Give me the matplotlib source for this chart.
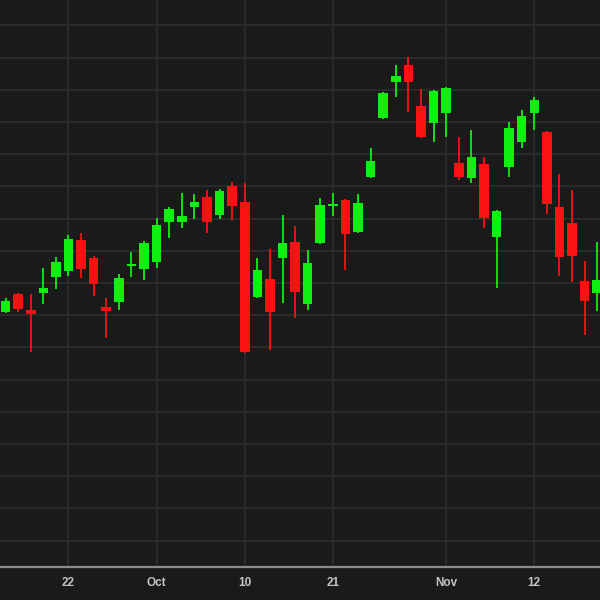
import matplotlib
matplotlib.use("Agg")
import matplotlib.pyplot as plt
import numpy as np

# Trading days, 15 Sep 2025 .. 19 Nov 2025 (arbitrary price units)
dates = ["09-15","09-16","09-17","09-18","09-19","09-22","09-23","09-24","09-25","09-26",
         "09-29","09-30","10-01","10-02","10-03","10-06","10-07","10-08","10-09","10-10",
         "10-13","10-14","10-15","10-16","10-17","10-20","10-21","10-22","10-23","10-24",
         "10-27","10-28","10-29","10-30","10-31","11-03","11-04","11-05","11-06","11-07",
         "11-10","11-11","11-12","11-13","11-14","11-17","11-18","11-19"]
opens  = [688, 706, 690, 707, 723, 729, 760, 742, 693, 698,
          734, 731, 738, 778, 778, 793, 803, 785, 814, 798,
          703, 721, 742, 758, 696, 757, 794, 800, 768, 823,
          882, 918, 935, 894, 877, 887, 837, 822, 836, 763,
          833, 858, 887, 868, 793, 777, 719, 707]
highs  = [702, 707, 706, 732, 743, 765, 767, 744, 702, 726,
          748, 759, 782, 793, 807, 806, 810, 811, 818, 817,
          742, 751, 785, 774, 750, 802, 807, 801, 806, 852,
          908, 935, 943, 911, 910, 913, 863, 870, 843, 790,
          878, 890, 903, 869, 826, 810, 739, 758]
lows   = [687, 688, 648, 696, 711, 724, 722, 704, 662, 690,
          723, 720, 732, 762, 772, 781, 767, 781, 780, 647,
          702, 650, 697, 682, 690, 756, 784, 730, 767, 822,
          881, 903, 888, 862, 858, 863, 820, 817, 772, 712,
          823, 852, 870, 786, 724, 718, 665, 689]
closes = [699, 691, 686, 712, 738, 761, 731, 716, 689, 722,
          736, 757, 775, 791, 784, 798, 778, 809, 794, 648,
          730, 688, 757, 708, 737, 795, 796, 766, 797, 839,
          907, 924, 918, 863, 909, 912, 823, 843, 782, 789,
          872, 884, 900, 796, 743, 744, 699, 720]

tick_idx = [5, 12, 19, 26, 35, 42]
tick_labels = ["22", "Oct", "10", "21", "Nov", "12"]

BG = "#1a1a1a"
GRID = "#2a2a2a"
UP = "#10f010"
DOWN = "#f81212"

fig = plt.figure(figsize=(6, 6), dpi=100, facecolor=BG)
ax = fig.add_axes([0, 33/600, 1, 567/600])
ax.set_facecolor(BG)

o = np.array(opens, float); h = np.array(highs, float)
l = np.array(lows, float); c = np.array(closes, float)
x = np.arange(len(o))
col = [UP if cc >= oo else DOWN for oo, cc in zip(o, c)]

ax.vlines(x, l, h, colors=col, linewidth=1.3, zorder=3)
bottom = np.minimum(o, c)
height = np.maximum(np.abs(c - o), 1.6)
ax.bar(x, height, bottom=bottom, width=0.76, color=col, linewidth=0, zorder=4)

ax.set_xlim(-0.44, 47.22)
ax.set_ylim(433, 1000)

# horizontal grid
grid_top, grid_step = 974.7, 32.2
for gy in np.arange(grid_top, 440, -grid_step):
    ax.axhline(gy, color=GRID, linewidth=1.5, zorder=1)
for tx in tick_idx:
    ax.axvline(tx, color=GRID, linewidth=1.5, zorder=1)

ax.set_xticks(tick_idx)
ax.set_xticklabels(tick_labels, color="#c4c4c4", fontsize=8.5, fontweight="bold",
                   family=["Liberation Sans", "DejaVu Sans"])
ax.tick_params(axis="x", length=0, pad=7)
ax.set_yticks([])
for s in ["top", "left", "right"]:
    ax.spines[s].set_visible(False)
ax.spines["bottom"].set_color("#8c8c8c")
ax.spines["bottom"].set_linewidth(1.6)

fig.savefig("out.png", dpi=100, facecolor=BG)
